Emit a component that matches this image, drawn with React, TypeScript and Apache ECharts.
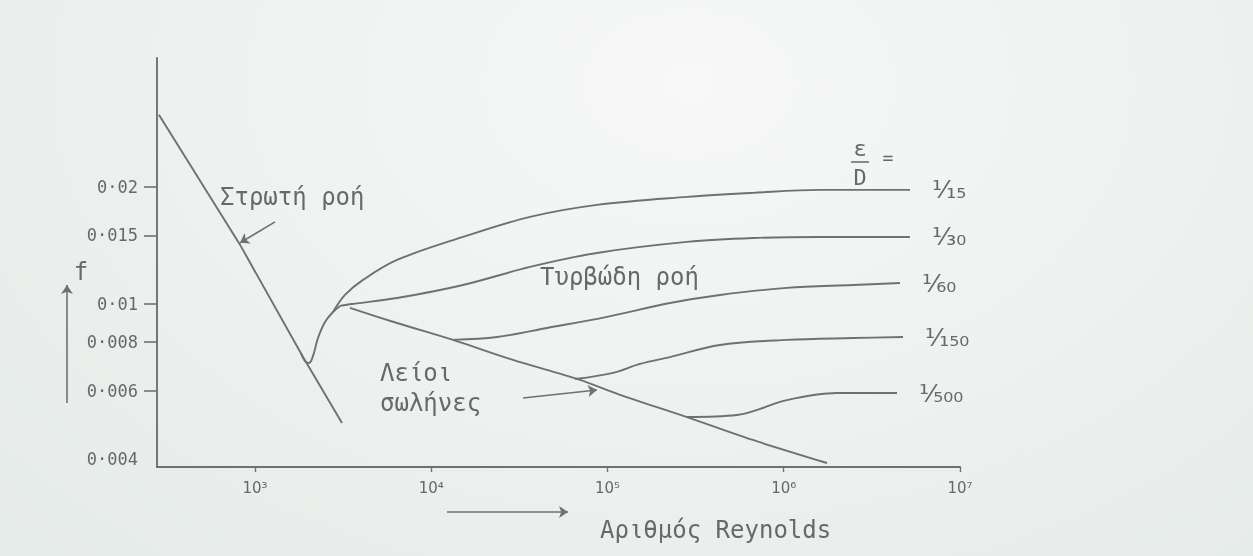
import React, { useEffect, useRef } from 'react';
import * as echarts from 'echarts';

// Reynolds-number ticks and friction-factor ticks
const reTicks = [1e3, 1e4, 1e5, 1e6, 1e7];
const fTicks = [0.004, 0.006, 0.008, 0.01, 0.015, 0.02];
const fTickMarks = [0.006, 0.008, 0.01, 0.015, 0.02];

// [Re, f] pairs for each curve
const laminarFlow: [number, number][] = [
  [285, 0.0306], [822, 0.0142], [1873, 0.00731], [3116, 0.00495],
];
const transitionZone: [number, number][] = [
  [1824, 0.00749], [1921, 0.00714], [2025, 0.00706], [2134, 0.00736],
  [2278, 0.00818], [2496, 0.00899], [2771, 0.00954], [3036, 0.00989],
];
const smoothPipes: [number, number][] = [
  [3459, 0.00977], [6393, 0.00894], [13290, 0.00809], [29100, 0.00719],
  [69820, 0.00639], [117700, 0.00585], [282500, 0.00513], [669100, 0.00448],
  [1760000, 0.00391],
];
const rough15: [number, number][] = [
  [2771, 0.00954], [3240, 0.01055], [4101, 0.01153], [6393, 0.01297],
  [15150, 0.01486], [36340, 0.01673], [87180, 0.01796], [282500, 0.01883],
  [669100, 0.01928], [1606000, 0.01962], [5204000, 0.01962],
];
const rough30: [number, number][] = [
  [3036, 0.00989], [3551, 0.0100], [6393, 0.01036], [15150, 0.01119],
  [36340, 0.01245], [87180, 0.01352], [282500, 0.01443], [669100, 0.01477],
  [1606000, 0.01486], [5204000, 0.01486],
];
const rough60: [number, number][] = [
  [13290, 0.00809], [23620, 0.00823], [45370, 0.00868], [99360, 0.00927],
  [226200, 0.01006], [434800, 0.01055], [1043000, 0.0110], [2472000, 0.01119],
  [4567000, 0.01132],
];
const rough150: [number, number][] = [
  [65410, 0.00642], [107500, 0.00666], [152900, 0.00702], [226200, 0.00731],
  [434800, 0.00785], [1043000, 0.00809], [2472000, 0.00818], [4749000, 0.00823],
];
const rough500: [number, number][] = [
  [282500, 0.00513], [543000, 0.00519], [1043000, 0.00567], [2005000, 0.00591],
  [4392000, 0.00591],
];

const roughnessNames = ['¹⁄₁₅', '¹⁄₃₀', '¹⁄₆₀', '¹⁄₁₅₀', '¹⁄₅₀₀'];
const roughnessData = [rough15, rough30, rough60, rough150, rough500];

// annotation arrows (data coordinates)
const laminarArrow: [number, number][] = [[1299, 0.01624], [822, 0.01435]];
const smoothArrow: [number, number][] = [[33160, 0.00574], [87180, 0.00602]];

const INK = '#6f7170';
const TEXT = '#676968';
const MONO = '"DejaVu Sans Mono", monospace';

const SUP: Record<number, string> = { 3: '³', 4: '⁴', 5: '⁵', 6: '⁶', 7: '⁷' };

const arrowLine = {
  silent: true,
  symbol: ['none', 'arrow'],
  symbolSize: 9,
  label: { show: false },
  emphasis: { disabled: true },
  lineStyle: { color: INK, width: 1.6, type: 'solid' },
};

export default function App() {
  const ref = useRef<HTMLDivElement>(null);

  useEffect(() => {
    if (!ref.current) return;
    const chart = echarts.init(ref.current, undefined, { renderer: 'svg' });

    const lineStyle = { color: INK, width: 1.9 };
    const base = {
      type: 'line',
      showSymbol: false,
      symbol: 'none',
      silent: true,
      lineStyle,
      emphasis: { disabled: true },
    };

    const roughSeries = roughnessData.map((data, i) => ({
      ...base,
      name: roughnessNames[i],
      data,
      smooth: 0.35,
      endLabel: {
        show: true,
        formatter: roughnessNames[i],
        distance: 22,
        color: TEXT,
        fontFamily: '"DejaVu Sans", sans-serif',
        fontSize: 25,
      },
    }));

    const text = (x: number, y: number, t: string, size: number, align = 'left') => ({
      type: 'text',
      x,
      y,
      silent: true,
      style: {
        text: t,
        fill: TEXT,
        font: `${size}px ${MONO}`,
        textAlign: align,
        textVerticalAlign: 'middle',
        align,
        verticalAlign: 'middle',
      },
    });

    chart.setOption({
      animation: false,
      grid: { left: 157, right: 293, top: 58, bottom: 89 },
      xAxis: {
        type: 'log',
        logBase: 10,
        min: 278,
        max: 1e7,
        axisLine: { lineStyle },
        axisTick: { customValues: reTicks, length: 5, lineStyle: { color: INK, width: 1.4 } },
        axisLabel: {
          customValues: reTicks,
          margin: 13,
          color: TEXT,
          fontFamily: '"DejaVu Sans", sans-serif',
          fontSize: 15,
          formatter: (v: number) => '10' + SUP[Math.round(Math.log10(v))],
        },
        splitLine: { show: false },
        minorTick: { show: false },
      },
      yAxis: {
        type: 'log',
        logBase: 10,
        min: 0.003819,
        max: 0.04276,
        axisLine: { show: true, lineStyle },
        axisTick: { show: true, customValues: fTickMarks, length: 13, lineStyle: { color: INK, width: 1.6 } },
        axisLabel: {
          customValues: fTicks,
          margin: 19,
          color: TEXT,
          fontFamily: MONO,
          fontSize: 17,
          formatter: (v: number) => String(Number(v.toPrecision(3))).replace('.', '·'),
        },
        splitLine: { show: false },
        minorTick: { show: false },
      },
      series: [
        {
          ...base,
          name: 'laminar',
          data: laminarFlow,
          smooth: false,
          markLine: {
            ...arrowLine,
            data: [
              [{ coord: laminarArrow[0] }, { coord: laminarArrow[1] }],
              [{ x: 67, y: 403 }, { x: 67, y: 285 }],
              [{ x: 447, y: 512 }, { x: 568, y: 512 }],
            ],
          },
        },
        { ...base, name: 'transition', data: transitionZone, smooth: 0.4 },
        {
          ...base,
          name: 'smooth',
          data: smoothPipes,
          smooth: 0.3,
          markLine: {
            ...arrowLine,
            data: [[{ coord: smoothArrow[0] }, { coord: smoothArrow[1] }]],
          },
        },
        ...roughSeries,
      ],
      graphic: [
        text(220, 197, 'Στρωτή ροή', 24),
        text(540, 277, 'Τυρβώδη ροή', 24),
        text(380, 373, 'Λείοι', 24),
        text(380, 403, 'σωλήνες', 24),
        text(600, 530, 'Αριθμός Reynolds', 24),
        text(81, 272, 'f', 24, 'center'),
        text(860, 148, 'ε', 22, 'center'),
        text(860, 177, 'D', 22, 'center'),
        text(888, 157, '=', 18, 'center'),
        {
          type: 'line',
          silent: true,
          shape: { x1: 851, y1: 162, x2: 869, y2: 162 },
          style: { stroke: INK, lineWidth: 1.6 },
        },
      ],
    });

    return () => chart.dispose();
  }, []);

  return (
    <div
      ref={ref}
      style={{
        position: 'fixed',
        left: 0,
        top: 0,
        width: 1253,
        height: 556,
        background:
          'radial-gradient(ellipse at 55% 15%, #f7f8f7 0%, #eef2f0 45%, #e5ebe8 100%)',
      }}
    />
  );
}
